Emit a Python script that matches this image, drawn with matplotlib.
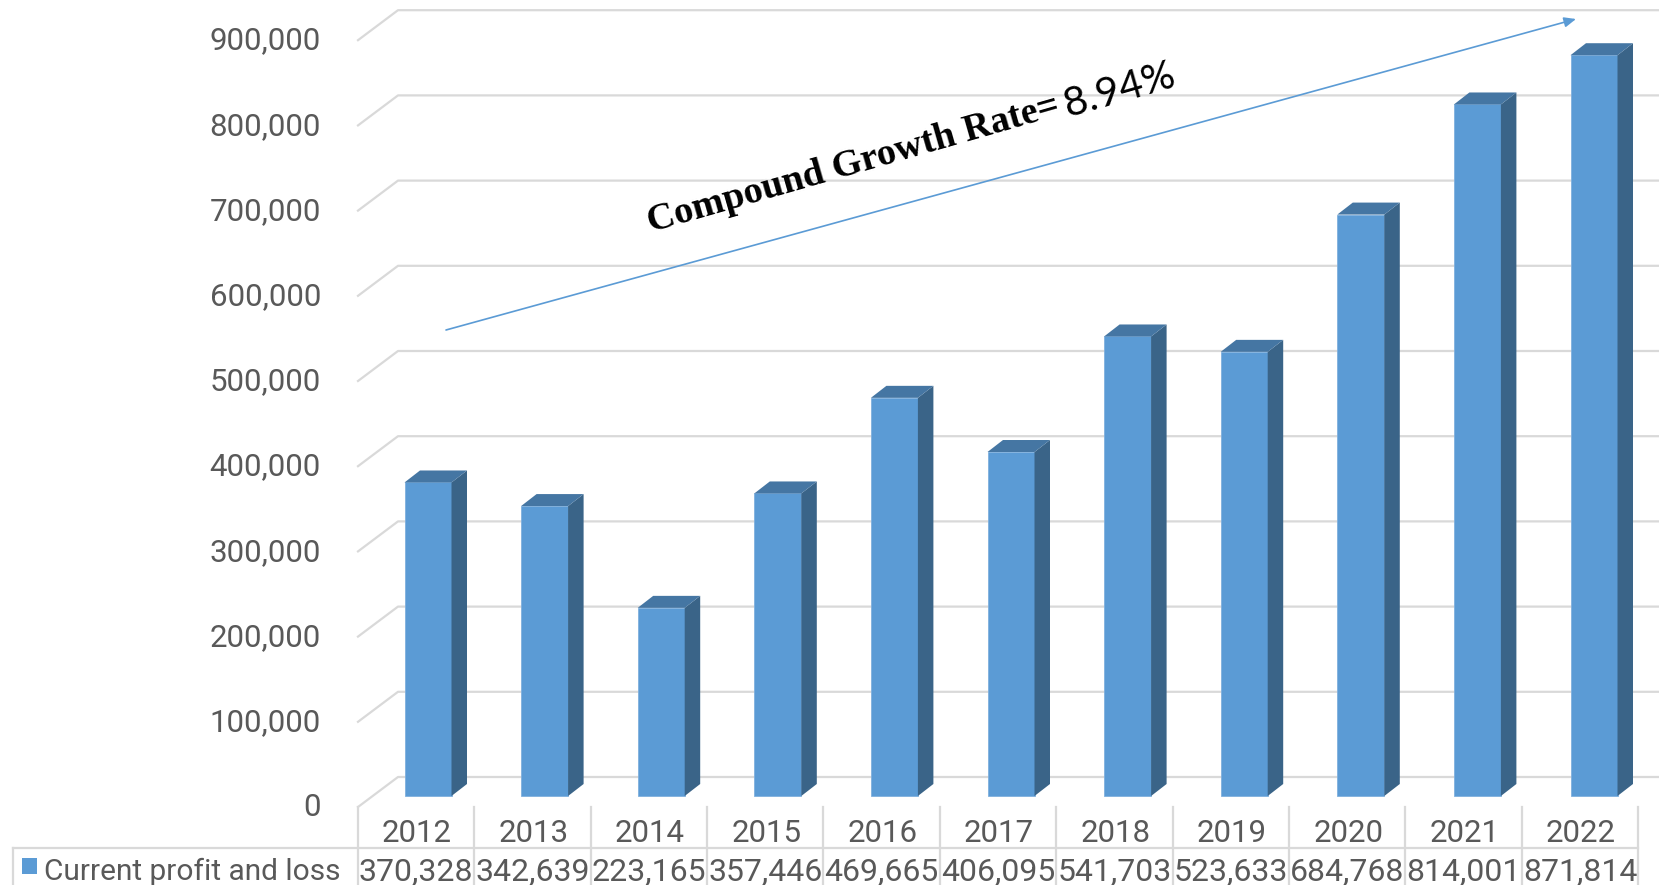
import matplotlib
matplotlib.use("Agg")
import matplotlib.pyplot as plt
from matplotlib.patches import Polygon, Rectangle

years = ["2012", "2013", "2014", "2015", "2016", "2017", "2018", "2019", "2020", "2021", "2022"]
profit = [370328, 342639, 223165, 357446, 469665, 406095, 541703, 523633, 684768, 814001, 871814]
y_ticks = [0, 100000, 200000, 300000, 400000, 500000, 600000, 700000, 800000, 900000]
series_name = "Current profit and loss"

W, H = 1659, 885
col_w = 116.4       # px per category
val_px = 0.852 / 1000  # px per unit
x0_px = 416.0       # px of first category centre
y0_px = 807.0       # px of value 0 on the front edge


def dx(p):
    return p / col_w


def dy(p):
    return p / val_px


def px(x, y):
    # figure pixels (from top left) to data
    return (x - x0_px) / col_w, (y0_px - y) / val_px


fig = plt.figure(figsize=(W / 100, H / 100), dpi=100)
ax = fig.add_axes([0, 0, 1, 1])
ax.set_xlim(px(0, 0)[0], px(W, 0)[0])
ax.set_ylim(px(0, H)[1], px(0, 0)[1])
ax.axis("off")

grid_c = "#d9d9d9"
text_c = "#595959"
font = "Roboto"

# walls
for v in y_ticks:
    x1 = px(358, 0)[0]
    ax.plot([x1, x1 + dx(40), px(W, 0)[0]], [v, v + dy(30), v + dy(30)],
            color=grid_c, lw=1.6, zorder=1)
    ax.text(px(321, 0)[0], v - dy(0.8), f"{v:,}", ha="right", va="center",
            color=text_c, fontsize=22.5, family=font)

# bars
bar_w = dx(47)
base = dy(9)
foot = dy(2)  # bars stop a little above the floor line
dep_x, dep_y = dx(15.5), dy(12)
xs = [px(428 + 116.6 * i, 0)[0] for i in range(len(years))]
ax.bar(xs, [v - foot for v in profit], width=bar_w, bottom=base + foot, color="#5b9bd5",
       edgecolor="#7fb0de", linewidth=0.6, zorder=3)
for x, v in zip(xs, profit):
    r = x + bar_w / 2
    l = x - bar_w / 2
    top = v + base
    low = base + foot
    ax.add_patch(Polygon([(r, low), (r + dep_x, low + dep_y), (r + dep_x, top + dep_y), (r, top)],
                         facecolor="#3a6488", edgecolor="none", zorder=3))
    ax.add_patch(Polygon([(l, top), (l + dep_x, top + dep_y), (r + dep_x, top + dep_y), (r, top)],
                         facecolor="#4576a3", edgecolor="none", zorder=3))

# data table
y_top = px(0, 807)[1]
y_mid = px(0, 848)[1]
y_bot = px(0, H)[1]
for i in range(len(years) + 1):
    x = i - 0.5
    ax.plot([x, x], [y_top, y_bot], color=grid_c, lw=1.6, zorder=1)
ax.plot([px(13, 0)[0], len(years) - 0.5], [y_mid, y_mid], color=grid_c, lw=1.6, zorder=1)
ax.plot([px(13, 0)[0]] * 2, [y_mid, y_bot], color=grid_c, lw=1.6, zorder=1)
for i, (yr, v) in enumerate(zip(years, profit)):
    ax.text(i + dx(1), px(0, 834)[1], yr, ha="center", va="center", color=text_c, fontsize=22.5, family=font)
    ax.text(i, px(0, 872)[1], f"{v:,}", ha="center", va="center", color=text_c, fontsize=23, family=font)
ax.add_patch(Rectangle(px(22, 874), dx(15), dy(16), facecolor="#5b9bd5", edgecolor="none", zorder=3))
ax.text(px(44, 0)[0], px(0, 872)[1], series_name, ha="left", va="center", color=text_c,
        fontsize=21.5, family=font)

# growth arrow and label
ax.annotate("", xy=px(1576, 19), xytext=px(446, 330),
            arrowprops=dict(arrowstyle="-|>,head_length=0.7,head_width=0.3", color="#5b9bd5",
                            lw=1.2, shrinkA=0, shrinkB=0), zorder=4)
ax.text(*px(651, 232), "Compound Growth Rate=", rotation=16, rotation_mode="anchor",
        ha="left", va="baseline", fontsize=27.5, fontweight="bold", family="Liberation Serif", color="black")
ax.text(*px(1068, 117), "8.94%", rotation=16, rotation_mode="anchor",
        ha="left", va="baseline", fontsize=29.5, family="Lato", color="black")

fig.savefig("out.png", dpi=100)
